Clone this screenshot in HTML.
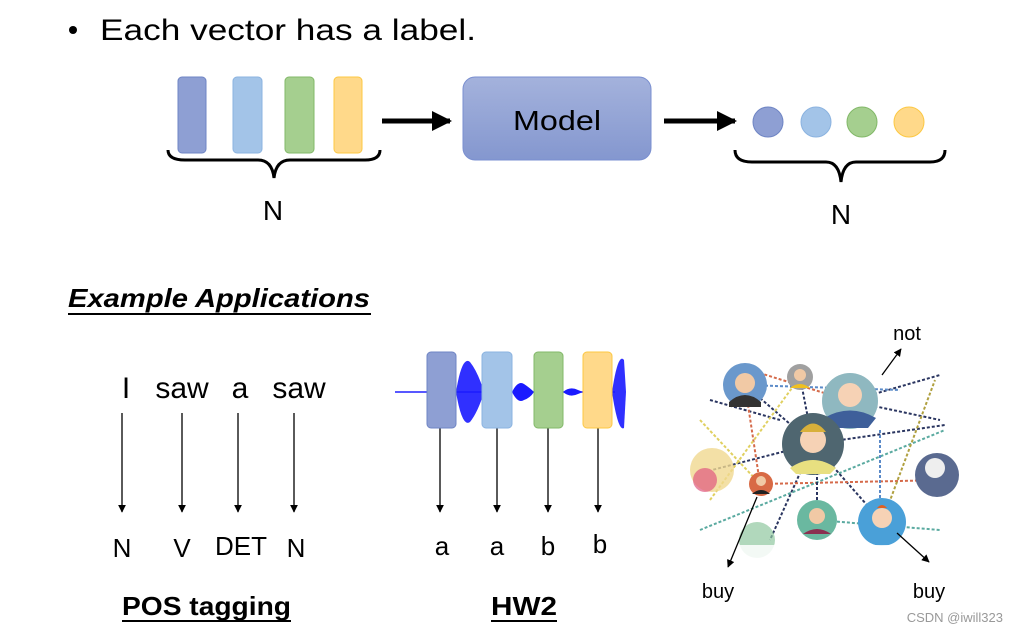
<!DOCTYPE html>
<html><head><meta charset="utf-8"><style>
html,body{margin:0;padding:0;background:#fff;width:1016px;height:632px;overflow:hidden}
svg{display:block}
text{font-family:"Liberation Sans",sans-serif;fill:#000}
</style></head><body>
<svg width="1016" height="632" viewBox="0 0 1016 632" xmlns="http://www.w3.org/2000/svg">
<defs>
<marker id="ah" viewBox="0 0 10 10" refX="9" refY="5" markerWidth="6" markerHeight="6" orient="auto"><path d="M0,0L10,5L0,10z" fill="#000"/></marker>
<marker id="big" viewBox="0 0 10 10" refX="9" refY="5" markerWidth="4" markerHeight="4" orient="auto"><path d="M0,0L10,5L0,10z" fill="#000"/></marker>
<linearGradient id="gb" x1="0" y1="0" x2="0" y2="1"><stop offset="0" stop-color="#a4b2dc"/><stop offset="1" stop-color="#8497cf"/></linearGradient>
</defs>
<circle cx="73" cy="30" r="4" fill="#000"/>
<text x="100" y="40" font-size="30" textLength="376" lengthAdjust="spacingAndGlyphs">Each vector has a label.</text>
<rect x="178" y="77" width="28" height="76" rx="4" fill="#8e9fd3" stroke="#6f85c4"/>
<rect x="233" y="77" width="29" height="76" rx="4" fill="#a3c4e8" stroke="#8bb3e0"/>
<rect x="285" y="77" width="29" height="76" rx="4" fill="#a5cf8f" stroke="#82b868"/>
<rect x="334" y="77" width="28" height="76" rx="4" fill="#ffd98a" stroke="#fcc843"/>
<path d="M168,150 Q168,160 185,160 L258,160 Q272,160 274,178 Q276,160 290,160 L365,160 Q380,160 380,150" fill="none" stroke="#000" stroke-width="3"/>
<text x="273" y="220" font-size="28" text-anchor="middle">N</text>
<line x1="382" y1="121" x2="450" y2="121" stroke="#000" stroke-width="5" marker-end="url(#big)"/>
<rect x="463" y="77" width="188" height="83" rx="12" fill="url(#gb)" stroke="#7a8fd0"/>
<text x="513" y="130" font-size="28" textLength="88" lengthAdjust="spacingAndGlyphs">Model</text>
<line x1="664" y1="121" x2="735" y2="121" stroke="#000" stroke-width="5" marker-end="url(#big)"/>
<circle cx="768" cy="122" r="15" fill="#8e9fd3" stroke="#6f85c4"/>
<circle cx="816" cy="122" r="15" fill="#a3c4e8" stroke="#8bb3e0"/>
<circle cx="862" cy="122" r="15" fill="#a5cf8f" stroke="#82b868"/>
<circle cx="909" cy="122" r="15" fill="#ffd98a" stroke="#fcc843"/>
<path d="M735,150 Q735,162 752,162 L826,162 Q839,162 841,182 Q843,162 856,162 L930,162 Q945,162 945,150" fill="none" stroke="#000" stroke-width="3"/>
<text x="841" y="224" font-size="28" text-anchor="middle">N</text>
<text x="68" y="307" font-size="26" font-weight="bold" font-style="italic" textLength="302" lengthAdjust="spacingAndGlyphs">Example Applications</text>
<line x1="68" y1="314" x2="371" y2="314" stroke="#000" stroke-width="2"/>
<text x="126" y="398" font-size="30" text-anchor="middle">I</text>
<text x="182" y="398" font-size="30" text-anchor="middle">saw</text>
<text x="240" y="398" font-size="30" text-anchor="middle">a</text>
<text x="299" y="398" font-size="30" text-anchor="middle">saw</text>
<g stroke="#000" stroke-width="1.3" marker-end="url(#ah)">
<line x1="122" y1="413" x2="122" y2="512"/><line x1="182" y1="413" x2="182" y2="512"/>
<line x1="238" y1="413" x2="238" y2="512"/><line x1="294" y1="413" x2="294" y2="512"/>
<line x1="440" y1="428" x2="440" y2="512"/><line x1="497" y1="428" x2="497" y2="512"/>
<line x1="548" y1="428" x2="548" y2="512"/><line x1="598" y1="428" x2="598" y2="512"/>
</g>
<text x="122" y="557" font-size="26" text-anchor="middle">N</text>
<text x="182" y="557" font-size="26" text-anchor="middle">V</text>
<text x="241" y="555" font-size="26" text-anchor="middle">DET</text>
<text x="296" y="557" font-size="26" text-anchor="middle">N</text>
<text x="122" y="615" font-size="26" font-weight="bold" textLength="169" lengthAdjust="spacingAndGlyphs">POS tagging</text>
<line x1="122" y1="621" x2="291" y2="621" stroke="#000" stroke-width="2"/>
<line x1="395" y1="392" x2="615" y2="392" stroke="#2020ff" stroke-width="1.5"/>
<path d="M456,392 Q462,355 470,362 Q478,372 484,392 Q478,412 470,422 Q462,428 456,392z" fill="#1a1aff" opacity="0.9"/>
<path d="M512,392 Q518,380 524,384 Q530,388 534,392 Q530,398 524,400 Q518,404 512,392z" fill="#1a1aff"/>
<path d="M563,392 Q570,386 578,390 L583,392 L578,394 Q570,398 563,392z" fill="#1a1aff"/>
<path d="M612,392 Q618,352 624,360 L626,392 L624,428 Q618,432 612,392z" fill="#1a1aff" opacity="0.9"/>
<rect x="427" y="352" width="29" height="76" rx="4" fill="#8e9fd3" stroke="#6f85c4"/>
<rect x="482" y="352" width="30" height="76" rx="4" fill="#a3c4e8" stroke="#8bb3e0"/>
<rect x="534" y="352" width="29" height="76" rx="4" fill="#a5cf8f" stroke="#82b868"/>
<rect x="583" y="352" width="29" height="76" rx="4" fill="#ffd98a" stroke="#fcc843"/>
<text x="442" y="555" font-size="26" text-anchor="middle">a</text>
<text x="497" y="555" font-size="26" text-anchor="middle">a</text>
<text x="548" y="555" font-size="26" text-anchor="middle">b</text>
<text x="600" y="553" font-size="26" text-anchor="middle">b</text>
<text x="491" y="615" font-size="26" font-weight="bold" textLength="66" lengthAdjust="spacingAndGlyphs">HW2</text>
<line x1="491" y1="621" x2="557" y2="621" stroke="#000" stroke-width="2"/>
<g stroke-width="2" stroke-dasharray="3,2" fill="none">
<line x1="745" y1="385" x2="813" y2="444" stroke="#2a3560"/>
<line x1="813" y1="444" x2="850" y2="401" stroke="#2a3560"/>
<line x1="813" y1="444" x2="945" y2="425" stroke="#2a3560"/>
<line x1="813" y1="444" x2="882" y2="522" stroke="#2a3560"/>
<line x1="813" y1="444" x2="712" y2="470" stroke="#2a3560"/>
<line x1="813" y1="444" x2="770" y2="540" stroke="#2a3560"/>
<line x1="800" y1="377" x2="813" y2="444" stroke="#2a3560"/>
<line x1="710" y1="400" x2="780" y2="420" stroke="#2a3560"/>
<line x1="850" y1="401" x2="940" y2="420" stroke="#2a3560"/>
<line x1="850" y1="401" x2="940" y2="375" stroke="#2a3560"/>
<line x1="760" y1="484" x2="945" y2="480" stroke="#d56a4a"/>
<line x1="745" y1="385" x2="760" y2="484" stroke="#d56a4a"/>
<line x1="750" y1="370" x2="850" y2="401" stroke="#d56a4a"/>
<line x1="710" y1="500" x2="800" y2="377" stroke="#e0d060"/>
<line x1="745" y1="385" x2="900" y2="390" stroke="#5a8ac8"/>
<line x1="700" y1="530" x2="945" y2="430" stroke="#5aaaa0"/>
<line x1="817" y1="520" x2="817" y2="470" stroke="#2a3560"/>
<line x1="882" y1="522" x2="935" y2="380" stroke="#b0a040"/>
<line x1="817" y1="520" x2="940" y2="530" stroke="#5aaaa0"/>
<line x1="880" y1="430" x2="880" y2="500" stroke="#5a8ac8"/>
<line x1="700" y1="420" x2="760" y2="484" stroke="#e0d060"/>
</g>
<circle cx="745" cy="385" r="22" fill="#6a98cc"/><circle cx="745" cy="383" r="10" fill="#f1c9a5"/><path d="M729,402 Q745,388 761,402 L761,407 L729,407z" fill="#333"/>
<circle cx="800" cy="377" r="13" fill="#a0a0a0"/><circle cx="800" cy="375" r="6" fill="#f1c9a5"/><path d="M790,388 Q800,380 810,388z" fill="#f0c020"/>
<circle cx="850" cy="401" r="28" fill="#8fb8c0"/><circle cx="850" cy="395" r="12" fill="#f6d2b5"/><path d="M824,418 Q850,403 876,418 L868,428 L832,428z" fill="#3e5f9a"/>
<circle cx="813" cy="444" r="31" fill="#4f6670"/><circle cx="813" cy="440" r="13" fill="#f6d2b5"/><path d="M800,432 Q813,415 826,432" fill="#d8b03a"/><path d="M790,468 Q813,452 836,468 L830,474 L796,474z" fill="#e8e080"/>
<circle cx="712" cy="470" r="22" fill="#f0d890" opacity="0.8"/><circle cx="705" cy="480" r="12" fill="#e05880" opacity="0.7"/>
<circle cx="761" cy="484" r="12" fill="#d86a45"/><circle cx="761" cy="481" r="5" fill="#f1c9a5"/><path d="M752,494 Q761,486 770,494z" fill="#222"/>
<circle cx="937" cy="475" r="22" fill="#5a6a90"/><circle cx="935" cy="468" r="10" fill="#eee"/>
<circle cx="817" cy="520" r="20" fill="#6ab8a0"/><circle cx="817" cy="516" r="8" fill="#f1c9a5"/><path d="M803,534 Q817,524 831,534z" fill="#8a3050"/>
<circle cx="882" cy="522" r="24" fill="#4aa0d8"/><circle cx="882" cy="518" r="10" fill="#f6d2b5"/><path d="M877,508 Q882,502 887,508" fill="#e06020"/>
<circle cx="757" cy="540" r="18" fill="#90c8a0" opacity="0.7"/>
<rect x="700" y="545" width="250" height="20" fill="#fff" opacity="0.85"/>
<g stroke="#000" stroke-width="1.3" marker-end="url(#ah)">
<line x1="882" y1="375" x2="901" y2="349"/>
<line x1="757" y1="497" x2="728" y2="567"/>
<line x1="897" y1="533" x2="929" y2="562"/>
</g>
<text x="907" y="340" font-size="20" text-anchor="middle">not</text>
<text x="718" y="598" font-size="20" text-anchor="middle">buy</text>
<text x="929" y="598" font-size="20" text-anchor="middle">buy</text>
<text x="1003" y="622" font-size="13" text-anchor="end" style="fill:#999">CSDN @iwill323</text>
</svg>
</body></html>
